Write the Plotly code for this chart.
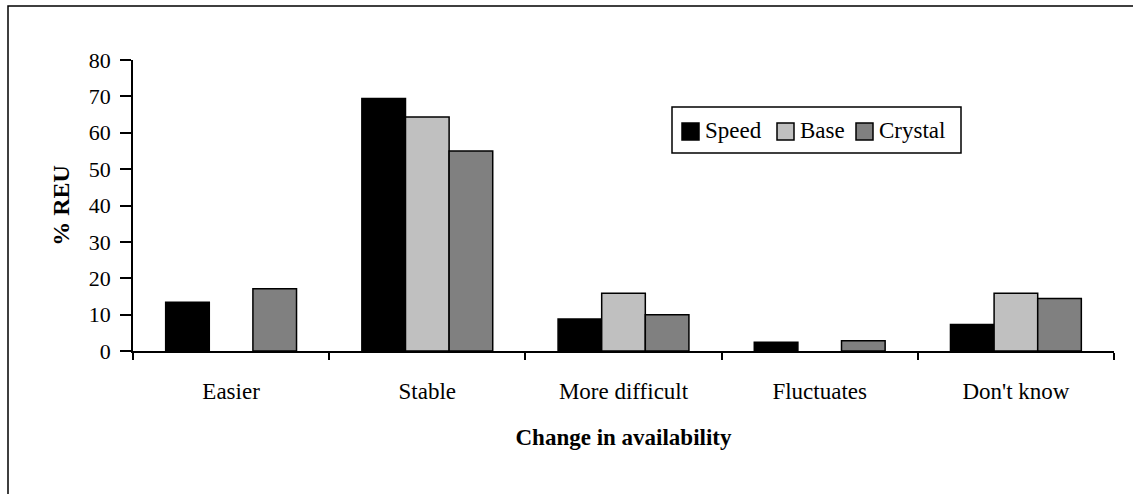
import plotly.graph_objects as go

categories = ["Easier", "Stable", "More difficult", "Fluctuates", "Don't know"]
speed = [13.4, 69.4, 8.8, 2.4, 7.3]
base = [None, 64.3, 15.9, None, 15.9]
crystal = [17.1, 55.0, 10.0, 2.8, 14.4]

series_names = ["Speed", "Base", "Crystal"]
series_values = [speed, base, crystal]
series_colors = ["#000000", "#c0c0c0", "#808080"]

W, H = 1133, 494
L, R, T, B = 133, 19, 60, 143
FONT = "Liberation Serif"

pw = W - L - R
ph = H - T - B

def px_x(p):
    return (p - L) / pw

def px_y(p):
    return (H - B - p) / ph

fig = go.Figure()
for name, vals, col in zip(series_names, series_values, series_colors):
    fig.add_trace(go.Bar(
        x=categories, y=vals, name=name, showlegend=False,
        marker=dict(color=col, line=dict(color="black", width=1.5)),
    ))

# manual legend (box, swatches, labels)
legend_box = (672, 961, 107, 153)
swatch_left = [682, 777, 856]
swatch_size = 17
swatch_top = 123
shapes = [dict(
    type="rect", xref="paper", yref="paper",
    x0=px_x(8), x1=px_x(W + 60), y0=px_y(H + 60), y1=px_y(6),
    line=dict(color="black", width=1.5), fillcolor="rgba(0,0,0,0)", layer="below",
), dict(
    type="rect", xref="paper", yref="paper",
    x0=px_x(legend_box[0]), x1=px_x(legend_box[1]),
    y0=px_y(legend_box[3]), y1=px_y(legend_box[2]),
    line=dict(color="black", width=1.5), fillcolor="white", layer="above",
)]
annotations = []
for name, col, sx in zip(series_names, series_colors, swatch_left):
    shapes.append(dict(
        type="rect", xref="paper", yref="paper",
        x0=px_x(sx), x1=px_x(sx + swatch_size),
        y0=px_y(swatch_top + swatch_size), y1=px_y(swatch_top),
        line=dict(color="black", width=1.5), fillcolor=col, layer="above",
    ))
    annotations.append(dict(
        text=name, xref="paper", yref="paper",
        x=px_x(sx + swatch_size + 4), y=px_y(swatch_top + swatch_size / 2 - 1),
        xanchor="left", yanchor="middle", showarrow=False,
        font=dict(family=FONT, size=23, color="black"),
    ))

fig.update_layout(
    width=W, height=H,
    margin=dict(l=L, r=R, t=T, b=B),
    paper_bgcolor="white", plot_bgcolor="white",
    font=dict(family=FONT, size=22, color="black"),
    barmode="group", bargap=0.333, bargroupgap=0,
    showlegend=False,
    xaxis=dict(
        showline=True, linecolor="black", linewidth=1.5,
        ticks="outside", tickson="boundaries", ticklen=7, tickwidth=1.5, tickcolor="black",
        ticklabelstandoff=19, showgrid=False,
        title=dict(text="<b>Change in availability</b>", standoff=26,
                   font=dict(family=FONT, size=23)),
        tickfont=dict(family=FONT, size=23),
    ),
    yaxis=dict(
        range=[0, 80], dtick=10,
        showline=True, linecolor="black", linewidth=1.5,
        ticks="outside", ticklen=11, tickwidth=1.5, tickcolor="black",
        ticklabelstandoff=5, showgrid=False, zeroline=False,
        title=dict(text="<b>% REU</b>", standoff=12,
                   font=dict(family=FONT, size=24)),
        tickfont=dict(family=FONT, size=22),
    ),
    shapes=shapes,
    annotations=annotations,
)

fig.write_html("out.html")
